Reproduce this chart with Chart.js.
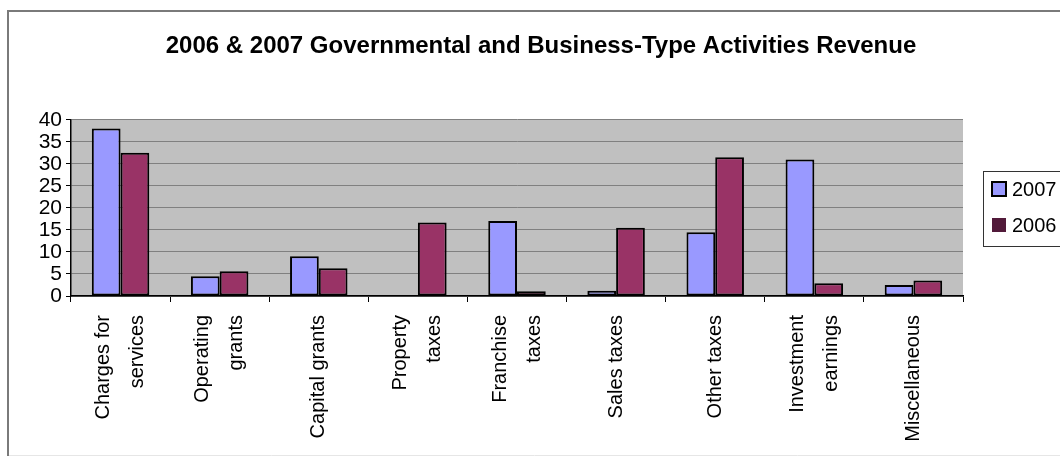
<!DOCTYPE html>
<html>
<head>
<meta charset="utf-8">
<title>Activities Revenue</title>
<script src="https://cdn.jsdelivr.net/npm/chart.js@4.4.1/dist/chart.umd.min.js"></script>
<style>
  html, body { margin: 0; padding: 0; background: #fff; }
  #wrap { width: 1060px; height: 458px; }
</style>
</head>
<body>
<div id="wrap"><canvas id="revenueChart" width="1060" height="458"></canvas></div>
<script>
// revenue by source, in percent.
// rotated labels: an empty line keeps every label centred on its category
const categories = [
  ["Charges for", "", "services"],
  ["Operating", "", "grants"],
  ["", "Capital grants"],
  ["Property", "", "taxes"],
  ["Franchise", "", "taxes"],
  ["", "Sales taxes"],
  ["", "Other taxes"],
  ["Investment", "", "earnings"],
  ["", "Miscellaneous"]
];
const seriesNames = ["2007", "2006"];
const revenue2007 = [38, 4.5, 9, 0, 17, 1.2, 14.5, 31, 2.5];
const revenue2006 = [32.5, 5.6, 6.3, 16.7, 1.1, 15.5, 31.5, 2.9, 3.5];
const yTicks = [0, 5, 10, 15, 20, 25, 30, 35, 40];

const barColors = ["#9999ff", "#993366"];
const swatchColors = ["#9999ff", "#521a3a"];
const FONT = "'Liberation Sans', Arial, sans-serif";

/* gray plot area + outer frame */
const plotBackground = {
  id: "plotBackground",
  beforeDraw(chart) {
    const { ctx, chartArea: a } = chart;
    ctx.save();
    ctx.fillStyle = "#c0c0c0";
    ctx.fillRect(a.left, a.top, a.right - a.left, a.bottom - a.top);

    ctx.strokeStyle = "#7a7a7a";
    ctx.lineWidth = 2;
    ctx.beginPath();
    ctx.moveTo(8, 456);
    ctx.lineTo(8, 11);
    ctx.lineTo(1060, 11);
    ctx.stroke();
    ctx.strokeStyle = "#e6e6e6";
    ctx.lineWidth = 1;
    ctx.beginPath();
    ctx.moveTo(9, 455.5);
    ctx.lineTo(1060, 455.5);
    ctx.stroke();
    ctx.restore();
  }
};

/* boxed legend on the right */
const boxLegend = {
  id: "boxLegend",
  afterDraw(chart) {
    const { ctx } = chart;
    ctx.save();
    ctx.strokeStyle = "#333";
    ctx.lineWidth = 1;
    ctx.strokeRect(983.5, 171.5, 100, 75);
    ctx.font = "20px " + FONT;
    ctx.textBaseline = "middle";
    chart.data.datasets.forEach((ds, i) => {
      const y = 189 + i * 36;
      ctx.fillStyle = swatchColors[i];
      ctx.fillRect(992, y - 7, 14, 14);
      if (i === 0) {
        ctx.strokeStyle = "#000";
        ctx.lineWidth = 2;
        ctx.strokeRect(992, y - 7, 14, 14);
      }
      ctx.fillStyle = "#000";
      ctx.fillText(ds.label, 1012, y + 1);
    });
    ctx.restore();
  }
};

new Chart(document.getElementById("revenueChart"), {
  type: "bar",
  data: {
    labels: categories,
    datasets: [
      {
        label: seriesNames[0],
        data: revenue2007,
        backgroundColor: barColors[0],
        borderColor: "#000",
        borderWidth: 2,
        borderSkipped: false
      },
      {
        label: seriesNames[1],
        data: revenue2006,
        backgroundColor: barColors[1],
        borderColor: "#000",
        borderWidth: 2,
        borderSkipped: false
      }
    ]
  },
  options: {
    responsive: false,
    animation: false,
    events: [],
    layout: { padding: { left: 22, right: 0, top: 0, bottom: 0 } },
    datasets: { bar: { categoryPercentage: 0.58, barPercentage: 1.0 } },
    plugins: {
      legend: { display: false },
      tooltip: { enabled: false },
      title: {
        display: true,
        text: "2006 & 2007 Governmental and Business-Type Activities Revenue",
        color: "#000",
        font: { family: FONT, size: 24, weight: "bold", lineHeight: 1.2 },
        padding: { top: 32, bottom: 59 }
      }
    },
    scales: {
      x: {
        grid: {
          offset: true,
          drawOnChartArea: false,
          drawTicks: true,
          tickLength: 6,
          tickColor: "#000"
        },
        border: { color: "#000", width: 1.5 },
        ticks: {
          autoSkip: false,
          maxRotation: 90,
          minRotation: 90,
          padding: 13,
          labelOffset: -17,
          color: "#000",
          font: { family: FONT, size: 20, lineHeight: "17px" }
        },
        afterFit(scale) { scale.height = 162; }
      },
      y: {
        min: yTicks[0],
        max: yTicks[yTicks.length - 1],
        grid: {
          color: "#808080",
          lineWidth: 1,
          drawTicks: true,
          tickLength: 5,
          tickColor: "#000"
        },
        border: { color: "#000", width: 1.5 },
        ticks: {
          count: yTicks.length,
          autoSkip: false,
          padding: 4,
          color: "#000",
          font: { family: FONT, size: 21, lineHeight: 1 }
        },
        afterFit(scale) { scale.width = 49; }
      },
      // empty right-hand strip that leaves room for the legend box
      legendSpace: {
        type: "linear",
        position: "right",
        grid: { display: false },
        border: { display: false },
        ticks: { display: false },
        afterFit(scale) { scale.width = 97; }
      }
    }
  },
  plugins: [plotBackground, boxLegend]
});
</script>
</body>
</html>
